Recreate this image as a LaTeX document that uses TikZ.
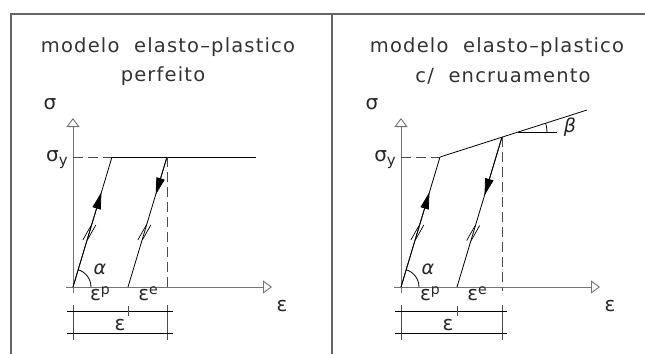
\documentclass[tikz,border=0pt]{standalone}
\usepackage{fontspec}
\setmainfont{DejaVu Sans}[LetterSpace=6]
\newfontfamily\grk{DejaVu Sans}
\newfontfamily\grki{DejaVu Sans Oblique}
\usetikzlibrary{arrows.meta,calc}
\tikzset{
  frameline/.style={draw=black!60, line width=1.3pt},
  axisline/.style={draw=black!55, line width=1pt},
  curveline/.style={draw=black, line width=0.8pt},
  dashline/.style={draw=black!70, line width=0.9pt, dash pattern=on 10pt off 5pt},
  dimline/.style={draw=black, line width=0.8pt},
  extline/.style={draw=black!70, line width=0.8pt},
  openarrow/.style={-{Triangle[open,length=9pt,width=13pt,line width=0.9pt]}},
  fillarrow/.style={-{Triangle[length=17pt,width=8.5pt]}},
  title/.style={font=\fontsize{19.5}{21}\selectfont, text=black!80, inner sep=0pt},
  lbl/.style={font=\fontsize{20}{22}\grk, text=black!85, inner sep=0pt},
  lbli/.style={font=\fontsize{19}{21}\grki, text=black!85, inner sep=0pt},
  hashline/.style={draw=black, line width=0.7pt},
}
\begin{document}
\begin{tikzpicture}[x=1pt,y=-1pt]
\useasboundingbox (0,0) rectangle (645,354);
% frame
\draw[frameline] (11,354) -- (11,14) -- (645,14);
\draw[frameline] (332,14) -- (332,354);
% titles
\node[title] (t1a) at (168,47) {modelo\ \ elasto–plastico};
\node[title] (t1b) at (163,76) {perfeito};
\node[title] (t2a) at (497,47) {modelo\ \ elasto–plastico};
\node[title] (t2b) at (503,76) {c/\ \ encruamento};

% ===== left panel =====
\coordinate (O1) at (73,287);
\coordinate (Y1) at (73,118);
\coordinate (X1) at (272,287);
\coordinate (A1) at (112,157);
\coordinate (B1) at (167,157);
\coordinate (C1) at (128,287);
\coordinate (H1) at (256,157);
\coordinate (S1) at (73,157);
\coordinate (D1) at (167,291);
\draw[axisline,openarrow] (73,293) -- (Y1);
\draw[axisline,openarrow] (66,287) -- (X1);
\draw[dashline] (S1) -- (A1);
\draw[curveline] (A1) -- (H1);
\draw[curveline] (O1) -- (A1);
\draw[curveline] (C1) -- (B1);
\draw[dashline] (B1) -- (D1);
\draw[curveline,fillarrow] (O1) -- ($(O1)!0.73!(A1)$);
\draw[curveline,fillarrow] (B1) -- ($(B1)!0.29!(C1)$);
\coordinate (h1) at ($(O1)!0.42!(A1)$);
\coordinate (h2) at ($(C1)!0.42!(B1)$);
\foreach \p in {h1,h2}{
  \draw[hashline] ($(\p)+(-6.5,7.5)$) -- ++(8.5,-15);
  \draw[hashline] ($(\p)+(-2,7.5)$) -- ++(8.5,-15);
}
\draw[curveline] ($(O1)+(18,0)$) arc[start angle=0,end angle=-73.3,radius=18];
% dimensions
\draw[extline] (73,305) -- (73,340);
\draw[extline] (167,305) -- (167,340);
\draw[dimline] (67,311) -- (173,311);
\draw[dimline] (67,333) -- (173,333);
\draw[extline] (128,306) -- (128,316);
% labels
\node[lbl] (sig1) at (50,104) {σ};
\node[lbl,anchor=base east] (sy1) at (68,161) {σ\raisebox{-4pt}{\fontsize{15}{15}\selectfont y}};
\node[lbl] (eps1) at (282,306) {ε};
\node[lbli] (al1) at (100,269) {α};
\node[lbl] (ep1) at (100,294) {ε\raisebox{6pt}{\fontsize{14}{14}\selectfont p}};
\node[lbl] (ee1) at (148,294) {ε\raisebox{6pt}{\fontsize{14}{14}\selectfont e}};
\node[lbl] (et1) at (120,325) {ε};

% ===== right panel =====
\coordinate (O2) at (401,287);
\coordinate (Y2) at (401,118);
\coordinate (X2) at (600,287);
\coordinate (A2) at (440,157);
\coordinate (B2) at (502,137);
\coordinate (C2) at (457,287);
\coordinate (H2) at (587,110);
\coordinate (S2) at (401,157);
\coordinate (D2) at (502,291);
\coordinate (G1) at (518,132);
\coordinate (G2) at (557,132);
\draw[axisline,openarrow] (401,293) -- (Y2);
\draw[axisline,openarrow] (394,287) -- (X2);
\draw[dashline] (S2) -- (A2);
\draw[curveline] (A2) -- (H2);
\draw[curveline] (O2) -- (A2);
\draw[curveline] (C2) -- (B2);
\draw[dashline] (B2) -- (D2);
\draw[curveline] (G1) -- (G2);
\draw[curveline] ($(G1)+(29,0)$) arc[start angle=0,end angle=-17.7,radius=29];
\draw[curveline,fillarrow] (O2) -- ($(O2)!0.73!(A2)$);
\draw[curveline,fillarrow] (B2) -- ($(B2)!0.39!(C2)$);
\coordinate (h3) at ($(O2)!0.42!(A2)$);
\coordinate (h4) at ($(C2)!0.36!(B2)$);
\foreach \p in {h3,h4}{
  \draw[hashline] ($(\p)+(-6.5,7.5)$) -- ++(8.5,-15);
  \draw[hashline] ($(\p)+(-2,7.5)$) -- ++(8.5,-15);
}
\draw[curveline] ($(O2)+(18,0)$) arc[start angle=0,end angle=-73.3,radius=18];
\draw[extline] (401,305) -- (401,340);
\draw[extline] (502,305) -- (502,340);
\draw[dimline] (395,311) -- (507,311);
\draw[dimline] (395,333) -- (507,333);
\draw[extline] (457,306) -- (457,316);
\node[lbl] (sig2) at (372,104) {σ};
\node[lbl,anchor=base east] (sy2) at (396,161) {σ\raisebox{-4pt}{\fontsize{15}{15}\selectfont y}};
\node[lbl] (eps2) at (610,306) {ε};
\node[lbli] (al2) at (428,269) {α};
\node[lbl] (ep2) at (430,294) {ε\raisebox{6pt}{\fontsize{14}{14}\selectfont p}};
\node[lbl] (ee2) at (477,294) {ε\raisebox{6pt}{\fontsize{14}{14}\selectfont e}};
\node[lbl] (et2) at (448,325) {ε};
\node[lbli] (be) at (570,127) {β};
\end{tikzpicture}
\end{document}
